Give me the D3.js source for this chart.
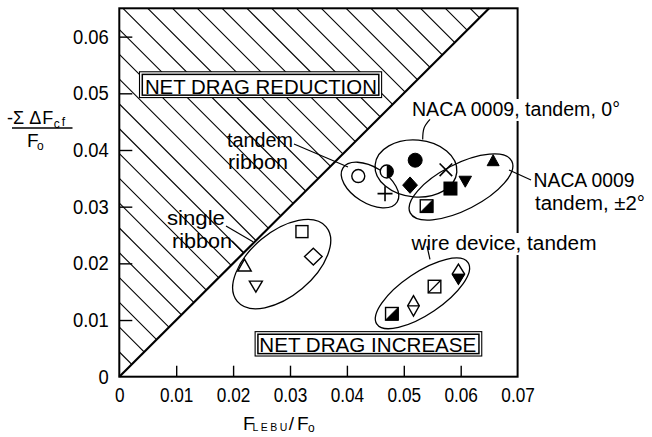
<!DOCTYPE html>
<html>
<head>
<meta charset="utf-8">
<script src="https://cdn.jsdelivr.net/npm/d3@7"></script>
<style>
  body { margin: 0; background: #fff; }
  svg { display: block; }
  text { font-family: "Liberation Sans", Arial, sans-serif; fill: #000; }
</style>
</head>
<body>
<svg id="chart" width="652" height="437"></svg>
<script>
// ---- axis ticks ----
const xTicks = [0, 0.01, 0.02, 0.03, 0.04, 0.05, 0.06, 0.07];
const xTickLabels = ["0", "0.01", "0.02", "0.03", "0.04", "0.05", "0.06", "0.07"];
const yTicks = [0, 0.01, 0.02, 0.03, 0.04, 0.05, 0.06];
const yTickLabels = ["0", "0.01", "0.02", "0.03", "0.04", "0.05", "0.06"];

// ---- device groups ----
const groupNames = ["single ribbon", "tandem ribbon", "NACA 0009, tandem, 0°",
                    "NACA 0009 tandem, ±2°", "wire device, tandem"];

// ---- measured points: F_LEBU/F_o vs -ΣΔF_cf/F_o ----
const pointGroup  = [0, 0, 0, 0, 1, 1, 1, 2, 2, 2, 3, 3, 3, 3, 4, 4, 4, 4];
const pointMarker = ["triUpOpen", "triDownOpen", "squareOpen", "diamondOpen",
                     "circleOpen", "circleHalf", "plus",
                     "circleFilled", "diamondFilled", "cross",
                     "squareFilled", "triDownFilled", "triUpFilled", "squareHalf",
                     "squareHalf", "diamondTallSplit", "squareSlash", "diamondTallHalf"];
const pointX = [0.0220, 0.0240, 0.0321, 0.0341,
                0.0420, 0.0470, 0.0467,
                0.0520, 0.0511, 0.0574,
                0.0582, 0.0608, 0.0657, 0.0540,
                0.0479, 0.0517, 0.0554, 0.0596];
const pointY = [0.0197, 0.0159, 0.0256, 0.0212,
                0.0354, 0.0362, 0.0323,
                0.0382, 0.0338, 0.0365,
                0.0332, 0.0344, 0.0382, 0.0301,
                0.0111, 0.0125, 0.0159, 0.0181];

// ---- boundary: net drag reduction where -ΣΔF_cf > F_LEBU ----
const boundaryX = [0, 0.065];
const boundaryY = [0, 0.065];

// ---- scales ----
const x = d3.scaleLinear().domain([0, 0.07]).range([119.3, 517.6]);
const y = d3.scaleLinear().domain([0, 0.065]).range([376.7, 8.3]);
const svg = d3.select("#chart");
const ink = "#000";

function condense(sel, f) {
  sel.each(function () {
    const n = this.getComputedTextLength();
    d3.select(this).attr("textLength", n * f).attr("lengthAdjust", "spacingAndGlyphs");
  });
}

// ---- hatched reduction region ----
svg.append("defs").append("clipPath").attr("id", "reductionClip")
  .append("path")
  .attr("d", `M${x(0)},${y(0)}L${x(0)},${y(0.065)}L${x(boundaryX[1])},${y(boundaryY[1])}Z`);

const hatch = svg.append("g").attr("clip-path", "url(#reductionClip)");
const hatchGap = 24.8;
const c0 = y(0) - x(0);
for (let k = 1; k <= 31; k++) {
  const c = c0 - hatchGap * k;
  hatch.append("line")
    .attr("x1", x(0) - 5).attr("y1", x(0) - 5 + c)
    .attr("x2", x(0) + 500).attr("y2", x(0) + 500 + c)
    .attr("stroke", ink).attr("stroke-width", 1.1);
}

// boundary line
svg.append("path")
  .attr("d", d3.line().x(d => x(d[0])).y(d => y(d[1]))(boundaryX.map((v, i) => [v, boundaryY[i]])))
  .attr("stroke", ink).attr("stroke-width", 2.2).attr("fill", "none");

// ---- frame ----
svg.append("rect")
  .attr("x", x(0)).attr("y", y(0.065))
  .attr("width", x(0.07) - x(0)).attr("height", y(0) - y(0.065))
  .attr("fill", "none").attr("stroke", ink).attr("stroke-width", 2);

// ---- axes ----
const xAxis = svg.append("g").attr("transform", `translate(0,${y(0)})`)
  .call(d3.axisBottom(x).tickValues(xTicks).tickFormat((d, i) => xTickLabels[i])
    .tickSizeInner(-11).tickSizeOuter(0).tickPadding(11));
xAxis.select(".domain").remove();
xAxis.selectAll(".tick line").attr("stroke", ink).attr("stroke-width", 1.4)
  .filter(d => d === 0 || d === 0.07).remove();
xAxis.selectAll(".tick text").attr("font-size", 20).attr("font-family", null).attr("fill", ink)
  .call(condense, 0.86);

const yAxis = svg.append("g").attr("transform", `translate(${x(0)},0)`)
  .call(d3.axisLeft(y).tickValues(yTicks).tickFormat((d, i) => yTickLabels[i])
    .tickSizeInner(-13).tickSizeOuter(0).tickPadding(10.5));
yAxis.select(".domain").remove();
yAxis.selectAll(".tick line").attr("stroke", ink).attr("stroke-width", 1.4)
  .filter(d => d === 0).remove();
yAxis.selectAll(".tick text").attr("font-size", 20).attr("font-family", null).attr("fill", ink)
  .call(condense, 0.92);

// ---- axis titles ----
// y: -ΣΔF_cf over F_o, written as a fraction
const yNum = svg.append("text").attr("x", 7).attr("y", 124).attr("font-size", 18);
yNum.append("tspan").text("-Σ");
yNum.append("tspan").attr("dx", 5).text("Δ");
yNum.append("tspan").attr("dx", 1).text("F");
yNum.append("tspan").attr("font-size", 12).attr("dy", 3.5).attr("dx", 0.5).text("c");
yNum.append("tspan").attr("font-size", 12).attr("dy", -1.5).attr("dx", 2).text("f");
svg.append("line").attr("x1", 12).attr("x2", 72.5).attr("y1", 128).attr("y2", 128)
  .attr("stroke", ink).attr("stroke-width", 1.5);
const yDen = svg.append("text").attr("x", 27).attr("y", 147).attr("font-size", 19);
yDen.append("tspan").text("F");
yDen.append("tspan").attr("font-size", 12).attr("dy", 3).attr("dx", -1.5).text("o");

// x: F_LEBU / F_o
const xTitle = svg.append("text").attr("x", 243).attr("y", 429.5).attr("font-size", 19);
xTitle.append("tspan").text("F");
xTitle.append("tspan").attr("font-size", 10.5).attr("dy", 1.5).attr("dx", -2)
  .attr("letter-spacing", 2.4).text("LEBU");
xTitle.append("tspan").attr("dy", -1.5).attr("dx", -1).text("/");
xTitle.append("tspan").attr("dx", 3).text("F");
xTitle.append("tspan").attr("font-size", 12).attr("dy", 2.5).attr("dx", -0.5).text("o");

// ---- region labels in double-ruled boxes ----
const regionBoxes = [
  { text: "NET DRAG REDUCTION", x0: 0.00355, x1: 0.0461, y0: 0.04925, y1: 0.0538, tx: 0.0045, ty: 0.04987, w: 232 },
  { text: "NET DRAG INCREASE", x0: 0.02387, x1: 0.0637, y0: 0.00365, y1: 0.00795, tx: 0.02461, ty: 0.00441, w: 217 }
];
regionBoxes.forEach(b => {
  const bx = x(b.x0), by = y(b.y1), bw = x(b.x1) - x(b.x0), bh = y(b.y0) - y(b.y1);
  svg.append("rect").attr("x", bx).attr("y", by).attr("width", bw).attr("height", bh)
    .attr("fill", "#fff").attr("stroke", ink).attr("stroke-width", 1.1);
  svg.append("rect").attr("x", bx + 2.8).attr("y", by + 2.6).attr("width", bw - 5.6).attr("height", bh - 5)
    .attr("fill", "none").attr("stroke", ink).attr("stroke-width", 1.5);
  svg.append("text").attr("x", x(b.tx)).attr("y", y(b.ty)).attr("font-size", 21)
    .attr("textLength", b.w).attr("lengthAdjust", "spacingAndGlyphs").text(b.text);
});

// ---- group outlines ----
const groupEllipses = [
  { cx: 0.02854, cy: 0.01987, rx: 58, ry: 32, rot: -40 },
  { cx: 0.04406, cy: 0.03382, rx: 32, ry: 18, rot: 32 },
  { cx: 0.05214, cy: 0.03673, rx: 41, ry: 28.5, rot: 5 },
  { cx: 0.06005, cy: 0.03347, rx: 57, ry: 23, rot: -27 },
  { cx: 0.05328, cy: 0.01471, rx: 55, ry: 21, rot: -34 }
];
svg.append("g").selectAll("ellipse").data(groupEllipses).join("ellipse")
  .attr("cx", 0).attr("cy", 0).attr("rx", d => d.rx).attr("ry", d => d.ry)
  .attr("transform", d => `translate(${x(d.cx)},${y(d.cy)}) rotate(${d.rot})`)
  .attr("fill", "none").attr("stroke", ink).attr("stroke-width", 1.3);

// ---- markers ----
function triPath(w, h, up) {
  const a = w / 2, b = h / 2;
  return up ? `M0,${-b}L${a},${b}L${-a},${b}Z` : `M0,${b}L${a},${-b}L${-a},${-b}Z`;
}
function diamondPath(a, b) { return `M0,${-b}L${a},0L0,${b}L${-a},0Z`; }

function drawMarker(g, key) {
  const sw = 1.4;
  const open = sel => sel.attr("fill", "#fff").attr("stroke", ink).attr("stroke-width", sw);
  const solid = sel => sel.attr("fill", ink).attr("stroke", ink).attr("stroke-width", 1);
  switch (key) {
    case "triUpOpen":   g.append("path").attr("d", triPath(13.5, 12, true)).call(open); break;
    case "triDownOpen": g.append("path").attr("d", triPath(13, 11, false)).call(open); break;
    case "squareOpen":  g.append("rect").attr("x", -6).attr("y", -6).attr("width", 12).attr("height", 12).call(open); break;
    case "diamondOpen": g.append("path").attr("d", diamondPath(8.8, 8.4)).call(open); break;
    case "circleOpen":  g.append("circle").attr("r", 6.5).call(open); break;
    case "circleHalf":
      g.append("circle").attr("r", 6.5).call(open);
      g.append("path").attr("d", "M0,-6.5A6.5,6.5 0 0 1 0,6.5Z").attr("fill", ink);
      break;
    case "plus":
      g.append("path").attr("d", "M-7.5,0H7.5M0,-7.5V7.5").attr("stroke", ink).attr("stroke-width", 1.6);
      break;
    case "cross":
      g.append("path").attr("d", "M-6.3,-6.3L6.3,6.3M-6.3,6.3L6.3,-6.3").attr("stroke", ink).attr("stroke-width", 1.6);
      break;
    case "circleFilled":  g.append("circle").attr("r", 7).call(solid); break;
    case "diamondFilled": g.append("path").attr("d", diamondPath(7.4, 8.2)).call(solid); break;
    case "squareFilled":  g.append("rect").attr("x", -6.5).attr("y", -6.5).attr("width", 13).attr("height", 13).call(solid); break;
    case "triDownFilled": g.append("path").attr("d", triPath(12.5, 11, false)).call(solid); break;
    case "triUpFilled":   g.append("path").attr("d", triPath(12, 11, true)).call(solid); break;
    case "squareHalf":
      g.append("rect").attr("x", -6.3).attr("y", -6.3).attr("width", 12.6).attr("height", 12.6).call(open);
      g.append("path").attr("d", "M-6.3,6.3L6.3,-6.3L6.3,6.3Z").attr("fill", ink).attr("stroke", ink).attr("stroke-width", 1);
      break;
    case "squareSlash":
      g.append("rect").attr("x", -6.3).attr("y", -6.3).attr("width", 12.6).attr("height", 12.6).call(open);
      g.append("path").attr("d", "M-6.3,6.3L6.3,-6.3").attr("stroke", ink).attr("stroke-width", 1.3);
      break;
    case "diamondTallSplit":
      g.append("path").attr("d", diamondPath(5.8, 10.2)).call(open);
      g.append("path").attr("d", "M-5.8,0H5.8").attr("stroke", ink).attr("stroke-width", 1.3);
      break;
    case "diamondTallHalf":
      g.append("path").attr("d", diamondPath(6.2, 10)).call(open);
      g.append("path").attr("d", "M-6.2,0L6.2,0L0,10Z").attr("fill", ink).attr("stroke", ink).attr("stroke-width", 1);
      break;
  }
}

const points = pointX.map((v, i) => ({ x: v, y: pointY[i], marker: pointMarker[i], group: groupNames[pointGroup[i]] }));
svg.append("g").selectAll("g").data(points).join("g")
  .attr("transform", d => `translate(${x(d.x)},${y(d.y)})`)
  .each(function (d) { drawMarker(d3.select(this), d.marker); });

// ---- group labels and leaders ----
const groupLabels = [
  { lines: [{ t: "NACA 0009, tandem, 0°", x: 0.05144, y: 0.04600, w: 208 }], mask: true },
  { lines: [{ t: "NACA 0009", x: 0.07280, y: 0.03347, w: 101 },
            { t: "tandem, ±2°", x: 0.07306, y: 0.02941, w: 110 }] },
  { lines: [{ t: "wire device, tandem", x: 0.05135, y: 0.02235, w: 185 }], mask: true },
  { lines: [{ t: "tandem", x: 0.01893, y: 0.04052, w: 66 },
            { t: "ribbon", x: 0.01910, y: 0.03673, w: 60 }] },
  { lines: [{ t: "single", x: 0.00838, y: 0.02676, w: 58 },
            { t: "ribbon", x: 0.00926, y: 0.02271, w: 60 }] }
];
const fs = 19.5;
groupLabels.forEach(l => {
  l.lines.forEach(ln => {
    if (l.mask) {
      svg.append("rect").attr("x", x(ln.x) - 3).attr("y", y(ln.y) - 17)
        .attr("width", ln.w + 6).attr("height", 22).attr("fill", "#fff");
    }
    svg.append("text").attr("x", x(ln.x)).attr("y", y(ln.y)).attr("font-size", fs)
      .attr("textLength", ln.w).attr("lengthAdjust", "spacingAndGlyphs").text(ln.t);
  });
});

const leaders = [
  [[0.05460, 0.04540], [0.05355, 0.04385], [0.05332, 0.04185]],
  [[0.06849, 0.03647], [0.07236, 0.03470]],
  [[0.05408, 0.02306], [0.05460, 0.02068]],
  [[0.03070, 0.04106], [0.04019, 0.03700]],
  [[0.01875, 0.02659], [0.02350, 0.02382]],
  [[0.01981, 0.02394], [0.02183, 0.02191]]
];
const leaderLine = d3.line().x(d => x(d[0])).y(d => y(d[1])).curve(d3.curveNatural);
svg.append("g").selectAll("path").data(leaders).join("path")
  .attr("d", leaderLine).attr("fill", "none").attr("stroke", ink).attr("stroke-width", 1.2);
</script>
</body>
</html>
